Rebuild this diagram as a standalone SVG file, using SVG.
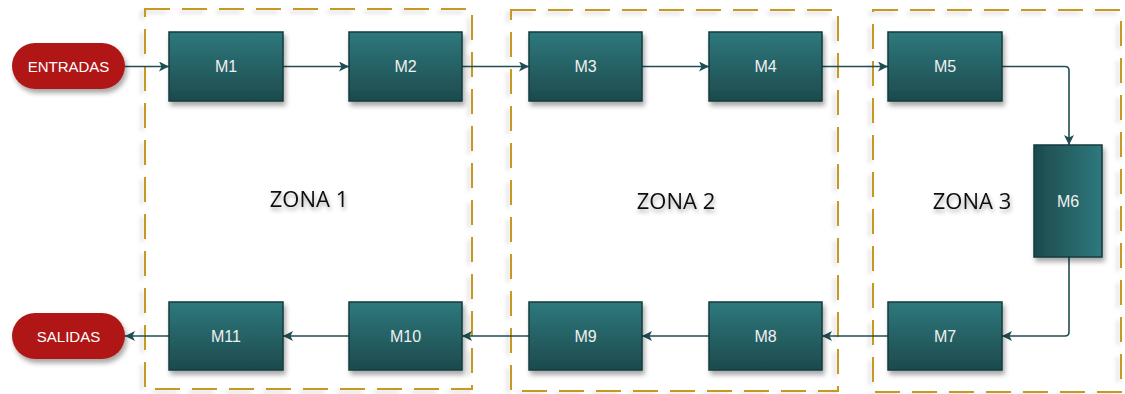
<svg xmlns="http://www.w3.org/2000/svg" width="1125" height="394" viewBox="0 0 1125 394">
<defs>
<linearGradient id="gv" x1="0" y1="0" x2="0" y2="1"><stop offset="0" stop-color="#2E797D"/><stop offset="1" stop-color="#1D4A4D"/></linearGradient>
<linearGradient id="gh" x1="0" y1="0" x2="1" y2="0"><stop offset="0" stop-color="#1D4A4D"/><stop offset="1" stop-color="#2E797D"/></linearGradient>
<filter id="sh" x="-20%" y="-20%" width="150%" height="160%"><feDropShadow dx="2" dy="4" stdDeviation="2.5" flood-color="#000" flood-opacity="0.35"/></filter>
<filter id="zsh" x="-5%" y="-5%" width="110%" height="110%"><feDropShadow dx="-3" dy="3" stdDeviation="2" flood-color="#000" flood-opacity="0.18"/></filter>
<filter id="tsh" x="-10%" y="-20%" width="130%" height="160%"><feDropShadow dx="1" dy="3" stdDeviation="2" flood-color="#000" flood-opacity="0.35"/></filter>
<marker id="ar" viewBox="0 0 10 10" refX="10" refY="5" markerWidth="10" markerHeight="10" markerUnits="userSpaceOnUse" orient="auto"><path d="M0,0 L10,5 L0,10 L2.5,5 z" fill="#1F4E52"/></marker>
<style>
.zone{fill:none;stroke:#C69A22;stroke-width:2;stroke-dasharray:25 12;filter:url(#zsh)}
.box{stroke:#163B3E;stroke-width:1.5;filter:url(#sh)}
.pill{fill:#B01818;filter:url(#sh)}
.lbl{font-family:"Liberation Sans",Arial,sans-serif;font-size:16px;fill:#F0F0F0;text-anchor:middle;dominant-baseline:central}
.pl{font-family:"Liberation Sans",Arial,sans-serif;font-size:15px;fill:#FFFFFF;text-anchor:middle;dominant-baseline:central}
.zt{font-family:"Open Sans","Liberation Sans",sans-serif;font-size:22px;fill:#111;text-anchor:middle;filter:url(#tsh)}
.cn{fill:none;stroke:#1F4E52;stroke-width:1.6;marker-end:url(#ar)}
</style>
</defs>
<rect width="1125" height="394" fill="#fff"/>
<g id="zone1"><rect class="zone" x="145" y="9" width="327" height="380"/><text class="zt" x="309" y="207">ZONA 1</text></g>
<g id="zone2"><rect class="zone" x="511" y="10" width="327" height="381"/><text class="zt" x="676" y="209">ZONA 2</text></g>
<g id="zone3"><rect class="zone" x="873" y="10" width="248" height="382"/><text class="zt" x="972" y="209">ZONA 3</text></g>
<g id="connectors">
<path class="cn" d="M125,66.5 H169"/>
<path class="cn" d="M283,66.5 H349"/>
<path class="cn" d="M462,66.5 H529"/>
<path class="cn" d="M642,66.5 H709"/>
<path class="cn" d="M822,66.5 H888"/>
<path class="cn" d="M1002,66.5 H1065 Q1069,66.5 1069,70.5 V145"/>
<path class="cn" d="M1069,257 V332 Q1069,336 1065,336 H1002"/>
<path class="cn" d="M888,336 H822"/>
<path class="cn" d="M709,336 H642"/>
<path class="cn" d="M529,336 H462"/>
<path class="cn" d="M349,336 H283"/>
<path class="cn" d="M169,336 H125"/>
</g>
<g id="entradas"><rect class="pill" x="12" y="43" width="113" height="46" rx="23"/><text class="pl" x="68.5" y="66">ENTRADAS</text></g>
<g id="salidas"><rect class="pill" x="12" y="313" width="113" height="46" rx="23"/><text class="pl" x="68.5" y="336">SALIDAS</text></g>
<g id="M1"><rect class="box" fill="url(#gv)" x="169" y="32" width="114" height="69"/><text class="lbl" x="226" y="66.5">M1</text></g>
<g id="M2"><rect class="box" fill="url(#gv)" x="349" y="32" width="113" height="69"/><text class="lbl" x="405.5" y="66.5">M2</text></g>
<g id="M3"><rect class="box" fill="url(#gv)" x="529" y="32" width="113" height="69"/><text class="lbl" x="585.5" y="66.5">M3</text></g>
<g id="M4"><rect class="box" fill="url(#gv)" x="709" y="32" width="113" height="69"/><text class="lbl" x="765.5" y="66.5">M4</text></g>
<g id="M5"><rect class="box" fill="url(#gv)" x="888" y="32" width="114" height="69"/><text class="lbl" x="945" y="66.5">M5</text></g>
<g id="M6"><rect class="box" fill="url(#gh)" x="1034" y="145" width="68" height="112"/><text class="lbl" x="1068" y="201">M6</text></g>
<g id="M7"><rect class="box" fill="url(#gv)" x="888" y="302" width="114" height="68"/><text class="lbl" x="945" y="336">M7</text></g>
<g id="M8"><rect class="box" fill="url(#gv)" x="709" y="302" width="113" height="68"/><text class="lbl" x="765.5" y="336">M8</text></g>
<g id="M9"><rect class="box" fill="url(#gv)" x="529" y="302" width="113" height="68"/><text class="lbl" x="585.5" y="336">M9</text></g>
<g id="M10"><rect class="box" fill="url(#gv)" x="349" y="302" width="113" height="68"/><text class="lbl" x="405.5" y="336">M10</text></g>
<g id="M11"><rect class="box" fill="url(#gv)" x="169" y="302" width="114" height="68"/><text class="lbl" x="226" y="336">M11</text></g>
</svg>
